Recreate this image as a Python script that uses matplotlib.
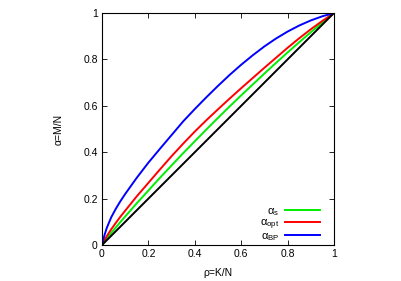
import matplotlib
matplotlib.use('Agg')
import matplotlib.pyplot as plt

# values
rho = [0, 0.01, 0.02, 0.04, 0.06, 0.08, 0.1, 0.15, 0.2, 0.25, 0.3, 0.35, 0.4,
       0.45, 0.5, 0.55, 0.6, 0.65, 0.7, 0.75, 0.8, 0.85, 0.9, 0.95, 1.0]
alpha_bp = [0, 0.04, 0.072, 0.12, 0.157, 0.19, 0.22, 0.29, 0.355, 0.415, 0.474, 0.533, 0.586,
            0.637, 0.686, 0.733, 0.777, 0.818, 0.856, 0.89, 0.92, 0.946, 0.968, 0.986, 1.0]
alpha_opt = [0, 0.02, 0.037, 0.068, 0.096, 0.123, 0.148, 0.21, 0.268, 0.326, 0.383, 0.437, 0.489,
             0.538, 0.585, 0.631, 0.676, 0.72, 0.764, 0.807, 0.85, 0.891, 0.93, 0.966, 1.0]
alpha_s = [0, 0.014, 0.027, 0.052, 0.076, 0.1, 0.123, 0.18, 0.235, 0.29, 0.343, 0.396, 0.447,
           0.498, 0.548, 0.597, 0.645, 0.692, 0.739, 0.785, 0.83, 0.874, 0.917, 0.959, 1.0]
ticks = [0, 0.2, 0.4, 0.6, 0.8, 1]
tick_labels = ['0', '0.2', '0.4', '0.6', '0.8', '1']

plt.rcParams['font.family'] = ['Liberation Sans', 'DejaVu Sans']
plt.rcParams['font.size'] = 7.5
plt.rcParams['mathtext.fontset'] = 'custom'
plt.rcParams['mathtext.rm'] = 'Liberation Sans'

fig = plt.figure(figsize=(4.02, 2.81), dpi=100)
ax = fig.add_axes([0.2537, 0.128, 0.577, 0.8256])

ax.plot(rho, alpha_s, color='#00ee00', lw=1.4, label=r'$\mathregular{\alpha_{s}}$')
ax.plot(rho, alpha_opt, color='#ff0000', lw=1.4, label=r'$\mathregular{\alpha_{opt}}$')
ax.plot(rho, alpha_bp, color='#0000ff', lw=1.4, label=r'$\mathregular{\alpha_{BP}}$')
ax.plot(rho, rho, color='black', lw=1.4)

ax.set_xlim(0, 1)
ax.set_ylim(0, 1)
ax.set_xticks(ticks)
ax.set_xticklabels(tick_labels)
ax.set_yticks(ticks)
ax.set_yticklabels(tick_labels)
ax.tick_params(direction='in', top=True, right=True, length=3.5, width=0.6, pad=3)
for s in ax.spines.values():
    s.set_linewidth(0.8)

ax.set_xlabel('ρ=K/N', labelpad=6)
ax.set_ylabel('α=M/N', labelpad=14)

ax.legend(loc='lower right', bbox_to_anchor=(0.944, 0.005), frameon=False,
          markerfirst=False, handlelength=3.1, labelspacing=-0.05, fontsize=8,
          borderaxespad=0, borderpad=0.1, handletextpad=0.55)

plt.savefig('out.png', dpi=100)
plt.close()
